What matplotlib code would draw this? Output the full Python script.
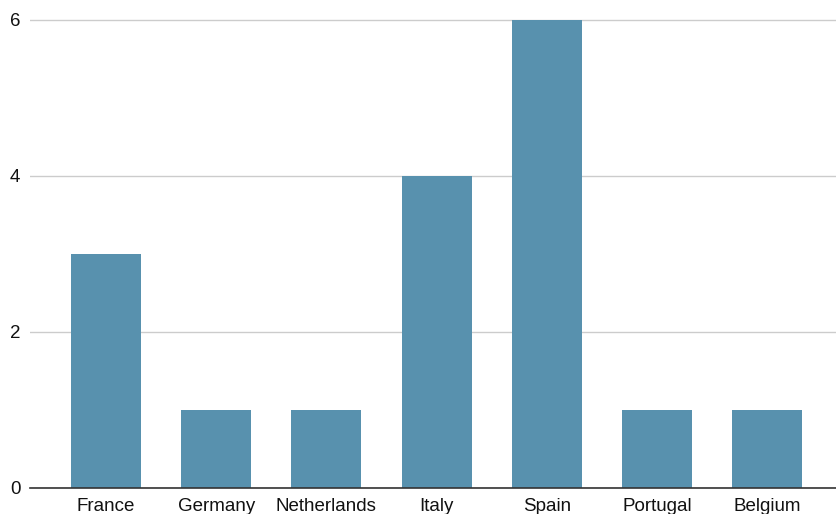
import matplotlib.pyplot as plt

countries = ['France', 'Germany', 'Netherlands', 'Italy', 'Spain', 'Portugal', 'Belgium']
counts = [3, 1, 1, 4, 6, 1, 1]
yticks = [0, 2, 4, 6]

plt.rcParams['font.family'] = ['Liberation Sans', 'DejaVu Sans']

fig = plt.figure(figsize=(8.36, 5.14), dpi=100)
W, H = 836, 514
ax = fig.add_axes([30 / W, 26 / H, 806 / W, 478 / H])

x = range(len(countries))
ax.bar(x, counts, width=0.635, color='#5891ae', zorder=3)

ax.set_xlim(-0.69, 6.625)
ax.set_ylim(0, 6 + 10 / 78)
ax.set_yticks(yticks)
ax.set_xticks(list(x))
ax.set_xticklabels(countries)
ax.tick_params(axis='both', length=0, labelsize=13.5, colors='#111111')
ax.tick_params(axis='y', pad=7)
ax.tick_params(axis='x', pad=7.5)

ax.grid(axis='y', color='#cccccc', linewidth=1, zorder=0)
for s in ['top', 'right', 'left']:
    ax.spines[s].set_visible(False)
ax.spines['bottom'].set_color('#333333')
ax.spines['bottom'].set_linewidth(1.2)
ax.spines['bottom'].set_zorder(4)

fig.savefig('out.png', dpi=100)
